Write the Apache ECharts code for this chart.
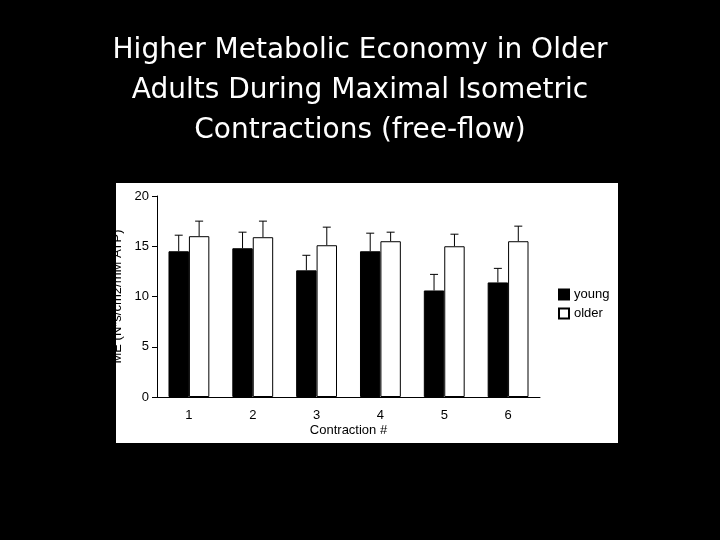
<!DOCTYPE html>
<html><head><meta charset="utf-8">
<script src="https://cdn.jsdelivr.net/npm/echarts@6/dist/echarts.min.js"></script>
<style>html,body{margin:0;background:#000}#c{width:720px;height:540px}</style>
</head><body><div id="c"></div>
<script>
var categories = ['1', '2', '3', '4', '5', '6'];
var young = [14.5, 14.8, 12.6, 14.5, 10.6, 11.4];
var older = [16.0, 15.9, 15.1, 15.5, 15.0, 15.5];
var youngErr = [1.6, 1.6, 1.5, 1.8, 1.6, 1.4];
var olderErr = [1.5, 1.6, 1.8, 0.9, 1.2, 1.5];

var chart = echarts.init(document.getElementById('c'));

// upward error bar with cap, drawn at the bar centre
function errSeries(vals, errs, idx) {
  return {
    type: 'custom',
    z: 1,
    data: vals.map(function (v, i) { return [i, v, v + errs[i]]; }),
    renderItem: function (params, api) {
      var bw = api.size([1, 0])[0];
      var off = (idx === 0 ? -1 : 1) * bw * 0.16;
      var base = api.coord([api.value(0), api.value(1)]);
      var top = api.coord([api.value(0), api.value(2)]);
      var x = base[0] + off;
      return {
        type: 'group',
        children: [
          { type: 'line', shape: { x1: x, y1: base[1], x2: x, y2: top[1] }, style: { stroke: '#000', lineWidth: 1 } },
          { type: 'line', shape: { x1: x - 4, y1: top[1], x2: x + 4, y2: top[1] }, style: { stroke: '#000', lineWidth: 1 } }
        ]
      };
    }
  };
}

chart.setOption({
  backgroundColor: '#000',
  animation: false,
  textStyle: { fontFamily: 'Liberation Sans' },
  title: {
    text: 'Higher Metabolic Economy in Older\nAdults During Maximal Isometric\nContractions (free-flow)',
    left: 'center', top: 26,
    textStyle: { color: '#fff', fontFamily: 'DejaVu Sans', fontWeight: 'normal', fontSize: 28, lineHeight: 40 }
  },
  graphic: [{ type: 'rect', z: -10, shape: { x: 116, y: 183, width: 502, height: 260 }, style: { fill: '#fff' } }],
  legend: {
    orient: 'vertical', left: 553, top: 283, itemGap: 6,
    itemWidth: 10, itemHeight: 10, icon: 'rect',
    textStyle: { color: '#000', fontSize: 13 },
    data: ['young', 'older']
  },
  grid: { left: 157, right: 180, top: 196, bottom: 143 },
  xAxis: {
    type: 'category', data: categories,
    name: 'Contraction #', nameLocation: 'middle', nameGap: 27,
    nameTextStyle: { color: '#000', fontSize: 13, lineHeight: 13 },
    axisLine: { lineStyle: { color: '#000' } },
    axisTick: { lineStyle: { color: '#000' } },
    axisLabel: { color: '#000', fontSize: 13, margin: 12 }
  },
  yAxis: {
    type: 'value', min: 0, max: 20, interval: 5,
    name: 'ME (N*s/cm2/mM ATP)', nameLocation: 'middle', nameGap: 24,
    nameTextStyle: { color: '#000', fontSize: 13 },
    axisLine: { show: true, lineStyle: { color: '#000' } },
    axisTick: { show: true, lineStyle: { color: '#000' } },
    axisLabel: { color: '#000', fontSize: 13 },
    splitLine: { show: false }
  },
  series: [
    { name: 'young', type: 'bar', data: young, barWidth: '32%', barGap: '0%',
      itemStyle: { color: '#000', borderColor: '#000', borderWidth: 1 } },
    { name: 'older', type: 'bar', data: older, barWidth: '32%',
      itemStyle: { color: '#fff', borderColor: '#000', borderWidth: 1 } },
    errSeries(young, youngErr, 0),
    errSeries(older, olderErr, 1)
  ]
});
</script></body></html>
